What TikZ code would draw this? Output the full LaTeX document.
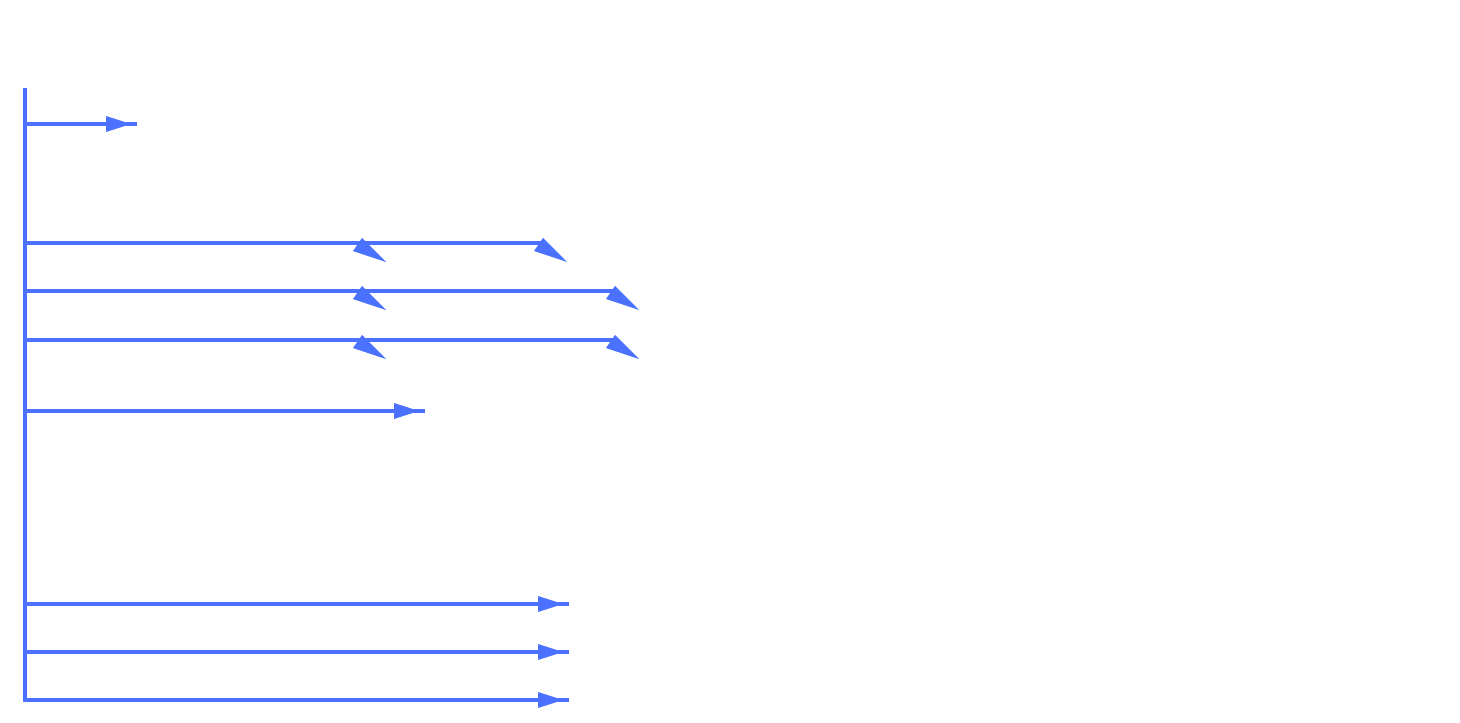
\documentclass[tikz,border=0pt]{standalone}
\definecolor{ln}{RGB}{74,114,255}
\begin{document}
\begin{tikzpicture}[x=0.5pt,y=-0.5pt,
  conn/.style={draw=ln,line width=1.9pt},
  headR/.pic={\fill[ln] (0,-8) -- (0,8) -- (25,0) -- cycle;},
  headT/.pic={\fill[ln] (0,0) -- (-9,13) -- (24,24) -- cycle;}]
\useasboundingbox (0,0) rectangle (1460,722);
% spine
\coordinate (s0) at (25,88);
\coordinate (s1) at (25,702);
\draw[conn] (s0) -- (s1);
% row starts and ends
\coordinate (a1) at (25,124); \coordinate (b1) at (137,124);
\coordinate (a2) at (25,243); \coordinate (b2) at (545,243);
\coordinate (a3) at (25,291); \coordinate (b3) at (617,291);
\coordinate (a4) at (25,340); \coordinate (b4) at (617,340);
\coordinate (a5) at (25,411); \coordinate (b5) at (425,411);
\coordinate (a6) at (25,604); \coordinate (b6) at (569,604);
\coordinate (a7) at (25,652); \coordinate (b7) at (569,652);
\coordinate (a8) at (25,700); \coordinate (b8) at (569,700);
\foreach \i in {1,...,8}{\draw[conn] (a\i) -- (b\i);}
% straight heads
\pic at (106,124) {headR};
\pic at (394,411) {headR};
\pic at (538,604) {headR};
\pic at (538,652) {headR};
\pic at (538,700) {headR};
% tilted heads
\pic at (362,238) {headT};
\pic at (543,238) {headT};
\pic at (362,286) {headT};
\pic at (615,286) {headT};
\pic at (362,335) {headT};
\pic at (615,335) {headT};
\end{tikzpicture}
\end{document}
